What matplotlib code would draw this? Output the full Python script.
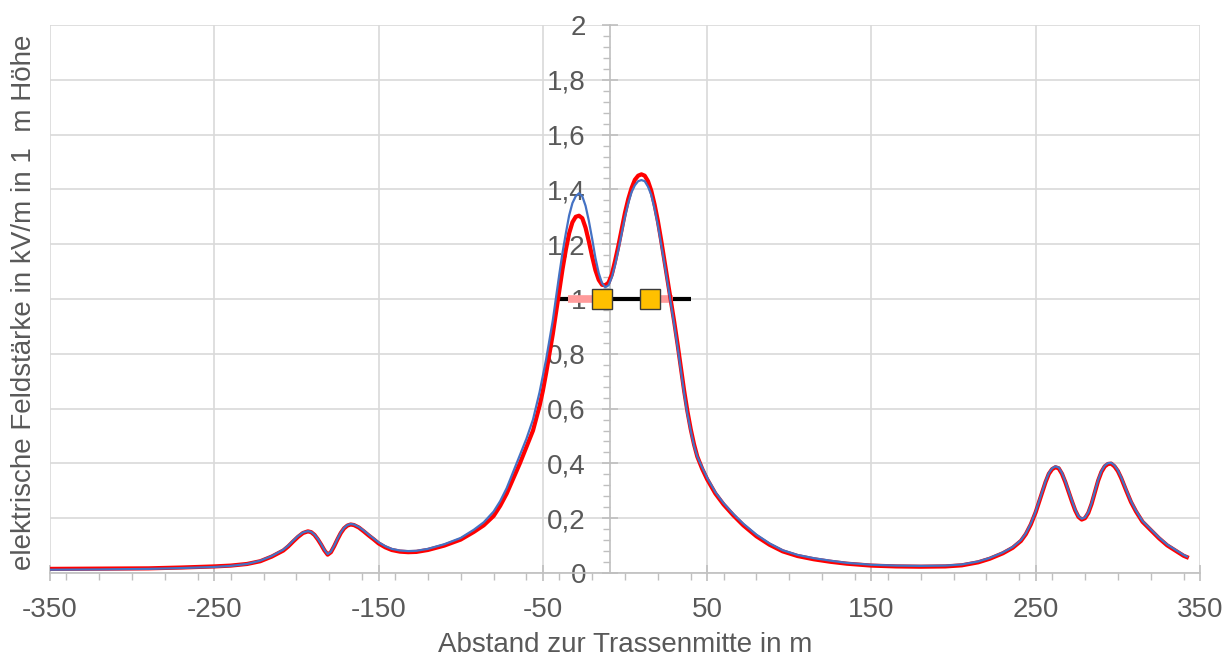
import matplotlib.pyplot as plt
from matplotlib.ticker import MultipleLocator, FuncFormatter

plt.rcParams['font.family'] = ['Liberation Sans', 'DejaVu Sans']
plt.rcParams['axes.unicode_minus'] = False

# distance from line centre (m), in three stretches
x_left = [-350, -320, -290, -270, -250, -240, -230, -222, -215, -208,
          -205, -202, -199, -196, -193, -191, -189, -187, -185, -183,
          -181, -179, -177, -175, -173, -171, -169, -167, -165, -162,
          -159, -156, -153, -150, -146, -142, -137, -132, -127, -120,
          -110, -100, -92, -86, -80, -76, -72, -68, -64, -60, -58, -56]
x_mid = [-54, -52, -50, -48, -46, -44, -42, -40, -38, -36, -34, -32, -30,
         -28, -26, -24, -22, -20, -18, -16, -14, -12, -10, -8, -6, -4, -2,
         0, 2, 4, 6, 8, 10, 12, 14, 16, 18, 20, 22, 24, 26, 28, 30, 32, 34,
         36, 38, 40, 42, 44]
x_right = [47, 50, 55, 60, 66, 72, 80, 88, 96, 105, 115, 125, 135, 150, 165,
           180, 195, 205, 215, 222, 230, 236, 241, 244, 247, 250, 253, 256,
           258, 260, 262, 264, 266, 268, 270, 272, 274, 276, 278, 280, 282,
           284, 286, 288, 290, 292, 294, 296, 298, 300, 302, 305, 308, 311,
           315, 320, 325, 330, 335, 340, 342]

# field strength in kV/m, blue series
blue_left = [0.012, 0.013, 0.015, 0.018, 0.022, 0.026, 0.033, 0.045, 0.062, 0.085,
             0.100, 0.118, 0.135, 0.148, 0.153, 0.150, 0.140, 0.125, 0.106, 0.085,
             0.069, 0.078, 0.100, 0.125, 0.148, 0.165, 0.175, 0.179, 0.177, 0.168,
             0.155, 0.140, 0.126, 0.112, 0.098, 0.088, 0.082, 0.080, 0.081, 0.088,
             0.105, 0.128, 0.158, 0.185, 0.224, 0.262, 0.310, 0.370, 0.430, 0.490,
             0.525, 0.560]
blue_mid = [0.610, 0.660, 0.720, 0.780, 0.850, 0.920, 1.005, 1.090, 1.170, 1.240,
            1.305, 1.350, 1.375, 1.386, 1.375, 1.340, 1.285, 1.220, 1.150, 1.095,
            1.058, 1.043, 1.050, 1.080, 1.125, 1.180, 1.240, 1.300, 1.350, 1.390,
            1.415, 1.430, 1.434, 1.430, 1.410, 1.380, 1.330, 1.270, 1.200, 1.130,
            1.055, 0.980, 0.905, 0.825, 0.740, 0.655, 0.580, 0.520, 0.465, 0.425]
blue_right = [0.385, 0.348, 0.295, 0.255, 0.215, 0.180, 0.140, 0.108, 0.083, 0.066,
              0.054, 0.045, 0.037, 0.030, 0.027, 0.026, 0.027, 0.031, 0.042, 0.055,
              0.075, 0.095, 0.120, 0.145, 0.180, 0.225, 0.280, 0.335, 0.365, 0.382,
              0.389, 0.385, 0.365, 0.335, 0.300, 0.265, 0.232, 0.208, 0.198, 0.203,
              0.222, 0.255, 0.298, 0.340, 0.372, 0.392, 0.401, 0.402, 0.392, 0.375,
              0.350, 0.305, 0.262, 0.228, 0.190, 0.160, 0.130, 0.104, 0.085, 0.066,
              0.060]

# field strength in kV/m, red series
red_left = [0.015, 0.016, 0.017, 0.020, 0.024, 0.027, 0.033, 0.043, 0.060, 0.082,
            0.097, 0.115, 0.132, 0.146, 0.152, 0.149, 0.139, 0.123, 0.104, 0.083,
            0.067, 0.076, 0.098, 0.123, 0.146, 0.163, 0.173, 0.177, 0.175, 0.166,
            0.152, 0.137, 0.123, 0.108, 0.094, 0.084, 0.078, 0.076, 0.077, 0.084,
            0.100, 0.122, 0.150, 0.174, 0.208, 0.245, 0.290, 0.345, 0.400, 0.460,
            0.490, 0.520]
red_mid = [0.565, 0.610, 0.665, 0.730, 0.800, 0.870, 0.950, 1.030, 1.110, 1.180,
           1.240, 1.280, 1.300, 1.304, 1.295, 1.260, 1.210, 1.155, 1.105, 1.070,
           1.052, 1.050, 1.060, 1.090, 1.140, 1.195, 1.255, 1.315, 1.365, 1.405,
           1.435, 1.450, 1.455, 1.450, 1.430, 1.395, 1.345, 1.285, 1.215, 1.140,
           1.065, 0.990, 0.915, 0.835, 0.750, 0.665, 0.590, 0.525, 0.470, 0.425]
red_right = [0.380, 0.342, 0.290, 0.250, 0.210, 0.174, 0.134, 0.103, 0.079, 0.062,
             0.050, 0.041, 0.034, 0.027, 0.024, 0.023, 0.024, 0.028, 0.039, 0.052,
             0.072, 0.092, 0.117, 0.142, 0.177, 0.222, 0.277, 0.332, 0.362, 0.379,
             0.386, 0.382, 0.362, 0.332, 0.297, 0.262, 0.229, 0.205, 0.195, 0.200,
             0.219, 0.252, 0.295, 0.337, 0.369, 0.389, 0.398, 0.399, 0.389, 0.372,
             0.347, 0.302, 0.259, 0.225, 0.187, 0.157, 0.127, 0.101, 0.082, 0.063,
             0.058]

x = x_left + x_mid + x_right
e_blue = blue_left + blue_mid + blue_right
e_red = red_left + red_mid + red_right

# limit line and markers
limit_x = [-40, 40]
limit_y = [1, 1]
pink_left_x = [-35, -14]
pink_right_x = [15, 29]
marker_x = [-14, 15]
marker_y = [1, 1]

fig = plt.figure(figsize=(12.27, 6.57), dpi=100)
ax = fig.add_axes([50 / 1227, 84 / 657, 1150 / 1227, 548 / 657])

gray = '#595959'
axis_col = '#BFBFBF'

ax.plot(limit_x, limit_y, color='black', lw=3, zorder=3, solid_capstyle='butt')
ax.plot(pink_left_x, limit_y, color='#FF9B9B', lw=5.5, zorder=3.5, solid_capstyle='butt')
ax.plot(pink_right_x, limit_y, color='#FF9B9B', lw=5.5, zorder=3.5, solid_capstyle='butt')
ax.plot(x, e_red, color='#FF0000', lw=3, zorder=4)
ax.plot(x, e_blue, color='#4472C4', lw=1.6, zorder=5)
ax.plot(marker_x, marker_y, ls='none', marker='s', ms=14.5, mfc='#FFC000',
        mec='#3A3A3A', mew=1, zorder=6)

ax.set_xlim(-350, 350)
ax.set_ylim(0, 2)
ax.xaxis.set_minor_locator(MultipleLocator(20))
ax.yaxis.set_major_locator(MultipleLocator(0.2))
ax.yaxis.set_minor_locator(MultipleLocator(0.04))
ax.set_xticks([-350, -250, -150, -50, 50, 150, 250, 350])

ax.yaxis.set_major_formatter(FuncFormatter(lambda v, p: ('%g' % round(v, 1)).replace('.', ',')))

ax.grid(True, which='major', color='#D9D9D9', lw=1.2)
ax.set_axisbelow(True)

for s in ['top', 'right']:
    ax.spines[s].set_visible(False)
ax.spines['left'].set_position(('data', -9))
ax.spines['left'].set_color(axis_col)
ax.spines['bottom'].set_color(axis_col)
ax.spines['left'].set_linewidth(1.2)
ax.spines['bottom'].set_linewidth(1.2)

ax.tick_params(axis='both', which='major', direction='inout', length=11,
               color=axis_col, width=1.2, labelsize=20, labelcolor=gray)
ax.tick_params(axis='both', which='minor', direction='out', length=5,
               color=axis_col, width=1)
ax.tick_params(axis='x', which='major', pad=12)
ax.tick_params(axis='y', which='major', pad=12)

ax.set_xlabel('Abstand zur Trassenmitte in m', fontsize=20, color=gray, labelpad=6)
ax.set_ylabel('elektrische Feldstärke in kV/m in 1  m Höhe', fontsize=20,
              color=gray)
ax.yaxis.set_label_coords(-0.0113, 0.4945)

fig.savefig('out.png', dpi=100)
